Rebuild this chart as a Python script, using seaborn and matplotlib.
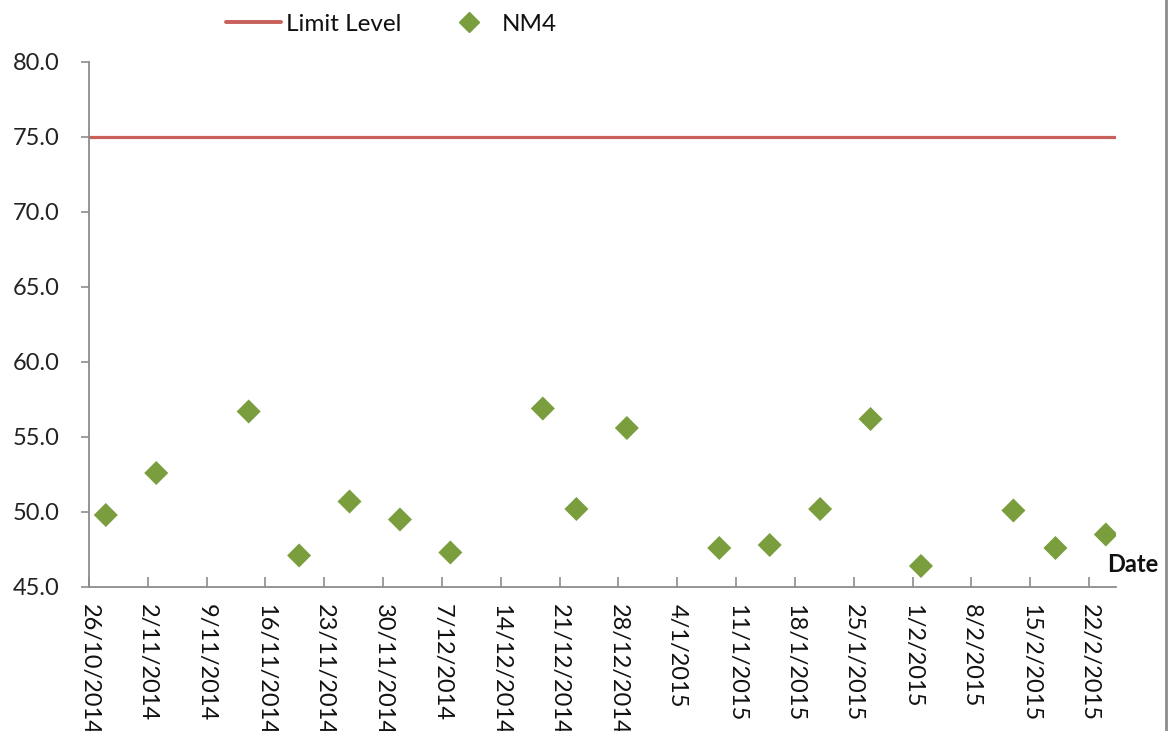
import matplotlib
matplotlib.use("Agg")
import matplotlib.pyplot as plt
import matplotlib.lines as mlines
import seaborn as sns
import pandas as pd

# ---- data ----
dates = ["2014-10-28", "2014-11-03", "2014-11-14", "2014-11-20", "2014-11-26",
         "2014-12-02", "2014-12-08", "2014-12-19", "2014-12-23", "2014-12-29",
         "2015-01-09", "2015-01-15", "2015-01-21", "2015-01-27", "2015-02-02",
         "2015-02-13", "2015-02-18", "2015-02-24"]
nm4 = [49.8, 52.6, 56.7, 47.1, 50.7, 49.5, 47.3, 56.9, 50.2, 55.6,
       47.6, 47.8, 50.2, 56.2, 46.4, 50.1, 47.6, 48.5]
limit_level = 75.0
x_start = "2014-10-26 00:00"
x_end = "2015-02-25 05:00"
y_ticks = [45.0, 50.0, 55.0, 60.0, 65.0, 70.0, 75.0, 80.0]

df = pd.DataFrame({"Date": pd.to_datetime(dates), "NM4": nm4})
lim_df = pd.DataFrame({"Date": [pd.Timestamp(x_start), pd.Timestamp(x_end)],
                       "Limit": [limit_level, limit_level]})

sns.set_theme(style="white")
plt.rcParams["font.family"] = ["Lato", "DejaVu Sans"]

red = "#C8605C"
green = "#7A9E3E"
axis_gray = "#8C8C8C"

fig = plt.figure(figsize=(11.68, 7.31), dpi=100)
ax = fig.add_axes([89 / 1168, 1 - 587 / 731, (1116 - 89) / 1168, (587 - 62) / 731])

sns.lineplot(data=lim_df, x="Date", y="Limit", ax=ax, color=red, linewidth=2.3)
sns.scatterplot(data=df, x="Date", y="NM4", ax=ax, marker="D", s=150,
                color=green, edgecolor="none", zorder=3)

ax.set_xlim(pd.Timestamp(x_start), pd.Timestamp(x_end))
ax.set_ylim(45, 80)
ax.set_yticks(y_ticks)
ax.set_yticklabels([f"{v:.1f}" for v in y_ticks])

tick_dates = pd.date_range("2014-10-26", "2015-02-22", freq="7D")
ax.set_xticks(tick_dates)
ax.set_xticklabels([f"{d.day}/{d.month}/{d.year}" for d in tick_dates],
                   rotation=-90, ha="center", va="top")

for s in ["top", "right"]:
    ax.spines[s].set_visible(False)
for s in ["left", "bottom"]:
    ax.spines[s].set_color(axis_gray)
    ax.spines[s].set_linewidth(1.3)

ax.tick_params(axis="y", direction="out", length=6, width=1.2, color=axis_gray,
               labelsize=17, labelcolor="#222222", pad=15.5, left=True)
ax.tick_params(axis="x", direction="in", length=7, width=1.2, color=axis_gray,
               labelsize=17, labelcolor="#111111", pad=12, bottom=True)

ax.set_ylabel("")
ax.set_xlabel("Date", fontsize=17, fontweight="bold", color="#111111")
ax.xaxis.set_label_coords(1.0166, 0.042)
ax.xaxis.label.set_ha("center")
ax.xaxis.label.set_va("center")

h1 = mlines.Line2D([], [], color=red, linewidth=2.8, label="Limit Level")
h2 = mlines.Line2D([], [], color=green, marker="D", linestyle="none",
                   markersize=10, label="NM4")
fig.legend(handles=[h1, h2], loc="center", bbox_to_anchor=(391.5 / 1168, 1 - 24 / 731),
           ncol=2, frameon=False, fontsize=17.5, handlelength=2.27, columnspacing=1.66,
           handletextpad=0.21, labelcolor="#111111", borderpad=0, borderaxespad=0)

fig.add_artist(mlines.Line2D([1166 / 1168, 1166 / 1168], [0, 1],
                             transform=fig.transFigure, color="#8C8C8C", linewidth=2))

fig.savefig("out.png", dpi=100)
